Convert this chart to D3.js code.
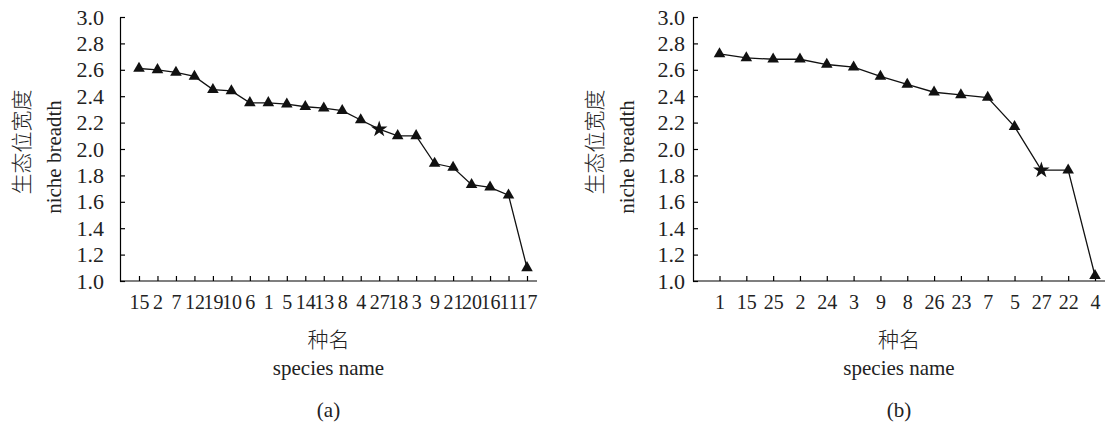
<!doctype html>
<html>
<head>
  <meta charset="utf-8">
  <title>Niche breadth by species</title>
  <script src="https://cdnjs.cloudflare.com/ajax/libs/d3/7.8.5/d3.min.js"></script>
  <style>
  body { margin: 0; background: #fff; }
  svg { display: block; font-family: "Liberation Serif", "Noto Sans CJK SC", serif; }
  .axis path, .axis line { stroke: #000; stroke-width: 1.2px; }
  .axis text { font-size: 20px; fill: #222; font-family: "Liberation Serif", serif; }
  .axis.yax text { font-size: 22px; }
  .line { stroke: #111; stroke-width: 1.3px; fill: none; }
  .title { font-size: 21px; fill: #222; }
  .cjk { font-family: "Noto Sans CJK SC", sans-serif; font-weight: 300; }
  </style>
</head>
<body>
  <script>
  // panel (a)
  var speciesA = ["15", "2", "7", "12", "19", "10", "6", "1", "5", "14", "13",
                  "8", "4", "27", "18", "3", "9", "21", "20", "16", "11", "17"];
  var breadthA = [2.61, 2.60, 2.58, 2.55, 2.45, 2.44, 2.35, 2.35, 2.34, 2.32, 2.31,
                  2.29, 2.22, 2.15, 2.10, 2.10, 1.89, 1.86, 1.73, 1.71, 1.65, 1.10];
  // panel (b)
  var speciesB = ["1", "15", "25", "2", "24", "3", "9", "8", "26", "23", "7",
                  "5", "27", "22", "4"];
  var breadthB = [2.72, 2.69, 2.68, 2.68, 2.64, 2.62, 2.55, 2.49, 2.43, 2.41, 2.39,
                  2.17, 1.84, 1.84, 1.04];
  var starSpecies = "27";
  var yTicks = [1.0, 1.2, 1.4, 1.6, 1.8, 2.0, 2.2, 2.4, 2.6, 2.8, 3.0];

  var svg = d3.select("body").append("svg")
      .attr("width", 1105)
      .attr("height", 430);

  var y = d3.scaleLinear()
      .domain([1.0, 3.0])
      .range([281, 17]);

  function panel(opts) {
    var g = svg.append("g");

    var x = d3.scalePoint()
        .domain(opts.species)
        .range([opts.first, opts.last]);

    g.append("g")
      .attr("class", "axis yax")
      .attr("transform", "translate(" + opts.left + ",0)")
      .call(d3.axisLeft(y)
        .tickValues(yTicks)
        .tickFormat(d3.format(".1f"))
        .tickSizeInner(-5)
        .tickSizeOuter(0)
        .tickPadding(opts.yPad));

    var xg = g.append("g")
      .attr("class", "axis")
      .attr("transform", "translate(0," + y(1.0) + ")")
      .call(d3.axisBottom(x)
        .tickSizeInner(-5)
        .tickSizeOuter(0)
        .tickPadding(14));
    xg.select(".domain").remove();
    xg.append("line")
      .attr("x1", opts.left)
      .attr("x2", opts.right)
      .attr("stroke", "#000")
      .attr("stroke-width", 1.2);

    var pts = opts.species.map(function(s, i) { return {s: s, v: opts.values[i]}; });

    g.append("path")
      .datum(pts)
      .attr("class", "line")
      .attr("d", d3.line()
        .x(function(d) { return x(d.s); })
        .y(function(d) { return y(d.v); }));

    g.selectAll(".mark")
      .data(pts)
      .enter().append("path")
      .attr("class", "mark")
      .attr("transform", function(d) { return "translate(" + x(d.s) + "," + y(d.v) + ")"; })
      .attr("d", function(d) {
        return d.s === starSpecies
          ? d3.symbol().type(d3.symbolStar).size(85)()
          : d3.symbol().type(d3.symbolTriangle).size(58)();
      })
      .attr("fill", "#111");

    // y titles
    g.append("text")
      .attr("class", "title cjk")
      .attr("transform", "translate(" + (opts.left - 98) + "," + 142 + ") rotate(-90)")
      .attr("text-anchor", "middle")
      .attr("dy", "0.35em")
      .text("生态位宽度");
    g.append("text")
      .attr("class", "title")
      .attr("transform", "translate(" + (opts.left - 66) + "," + 157 + ") rotate(-90)")
      .attr("text-anchor", "middle")
      .attr("dy", "0.35em")
      .text("niche breadth");

    // x titles
    var cx = (opts.left + opts.right) / 2;
    g.append("text")
      .attr("class", "title cjk")
      .attr("x", cx).attr("y", 340)
      .attr("dy", "0.35em")
      .attr("text-anchor", "middle")
      .text("种名");
    g.append("text")
      .attr("class", "title")
      .attr("x", cx).attr("y", 375)
      .attr("text-anchor", "middle")
      .text("species name");
    g.append("text")
      .attr("class", "title")
      .attr("x", cx).attr("y", 410)
      .attr("dy", "0.35em")
      .attr("text-anchor", "middle")
      .text(opts.tag);
  }

  panel({species: speciesA, values: breadthA, left: 120, right: 537,
         first: 139, last: 527, yPad: 16, tag: "(a)"});
  panel({species: speciesB, values: breadthB, left: 693, right: 1105,
         first: 719.5, last: 1095, yPad: 8, tag: "(b)"});
  </script>
</body>
</html>
